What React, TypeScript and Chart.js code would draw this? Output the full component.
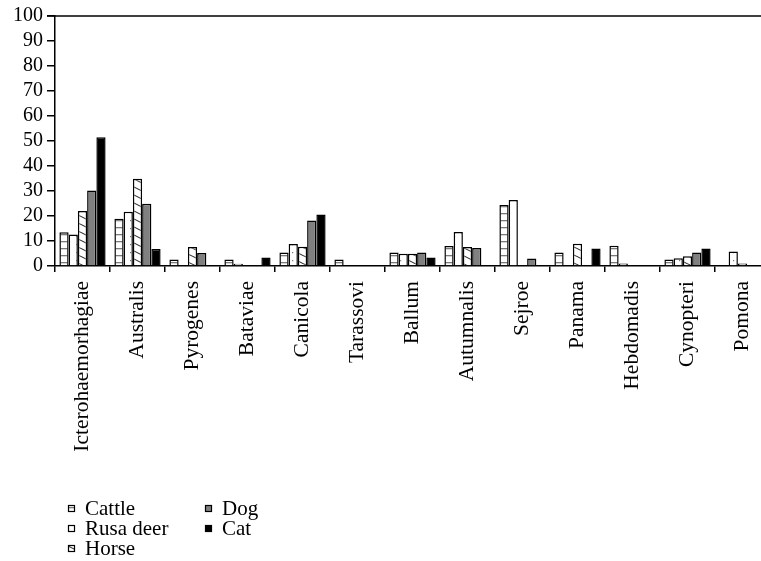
import React, { useEffect, useRef } from "react";
import { Chart, registerables } from "chart.js";

Chart.register(...registerables);

const categories = [
  "Icterohaemorhagiae",
  "Australis",
  "Pyrogenes",
  "Bataviae",
  "Canicola",
  "Tarassovi",
  "Ballum",
  "Autumnalis",
  "Sejroe",
  "Panama",
  "Hebdomadis",
  "Cynopteri",
  "Pomona",
];

const seriesNames = ["Cattle", "Rusa deer", "Horse", "Dog", "Cat"];

const cattle = [13.5, 18.9, 2.6, 2.6, 5.4, 2.6, 5.4, 8.0, 24.4, 5.4, 8.1, 2.6, 0];
const rusaDeer = [12.6, 21.7, 0, 0.9, 8.8, 0, 4.9, 13.6, 26.4, 0, 1.0, 3.1, 5.8];
const horse = [22.0, 34.9, 7.6, 0, 7.7, 0, 4.9, 7.6, 0, 8.9, 0, 3.9, 1.0];
const dog = [30.2, 24.9, 5.2, 0, 18.2, 0, 5.4, 7.2, 3.0, 0, 0, 5.4, 0];
const cat = [51.5, 6.8, 0, 3.4, 20.6, 0, 3.4, 0, 0, 7.0, 0, 7.0, 0];

const yMin = 0;
const yMax = 100;
const yStep = 10;

const FONT = "'Liberation Serif', 'Times New Roman', serif";

function makePattern(kind: string): CanvasPattern | string {
  const c = document.createElement("canvas");
  if (kind === "lines") {
    c.width = 8;
    c.height = 7;
    const ctx = c.getContext("2d")!;
    ctx.fillStyle = "#ffffff";
    ctx.fillRect(0, 0, 8, 7);
    ctx.fillStyle = "#7a7a7a";
    ctx.fillRect(0, 3, 8, 1.3);
    return ctx.createPattern(c, "repeat")!;
  }
  if (kind === "dots") {
    c.width = 9;
    c.height = 8;
    const ctx = c.getContext("2d")!;
    ctx.fillStyle = "#ffffff";
    ctx.fillRect(0, 0, 9, 8);
    ctx.fillStyle = "#777777";
    ctx.fillRect(4, 4, 1.2, 1.2);
    return ctx.createPattern(c, "repeat")!;
  }
  if (kind === "diag") {
    c.width = 16;
    c.height = 8;
    const ctx = c.getContext("2d")!;
    ctx.fillStyle = "#ffffff";
    ctx.fillRect(0, 0, 16, 8);
    ctx.strokeStyle = "#333333";
    ctx.lineWidth = 1.1;
    for (let k = -1; k <= 1; k++) {
      ctx.beginPath();
      ctx.moveTo(-16, -8 + 8 * k);
      ctx.lineTo(32, 16 + 8 * k);
      ctx.stroke();
    }
    return ctx.createPattern(c, "repeat")!;
  }
  return kind;
}

const legendPlugin = {
  id: "columnLegend",
  afterDraw(chart: any) {
    const ctx: CanvasRenderingContext2D = chart.ctx;
    const positions = [
      [68, 508],
      [68, 528],
      [68, 548],
      [205, 508],
      [205, 528],
    ];
    ctx.save();
    ctx.font = `21px ${FONT}`;
    ctx.textBaseline = "middle";
    ctx.textAlign = "left";
    chart.data.datasets.forEach((ds: any, i: number) => {
      const [x, y] = positions[i];
      ctx.fillStyle = ds.backgroundColor;
      ctx.fillRect(x, y - 3, 7, 7);
      ctx.strokeStyle = "#000";
      ctx.lineWidth = 1.2;
      ctx.strokeRect(x + 0.5, y - 2.5, 6, 6);
      ctx.fillStyle = "#000";
      ctx.fillText(ds.label, x + 17, y + 1);
    });
    ctx.restore();
  },
};

const topLinePlugin = {
  id: "topLine",
  afterDraw(chart: any) {
    const { ctx, chartArea } = chart;
    ctx.save();
    ctx.strokeStyle = "#000";
    ctx.lineWidth = 1.5;
    ctx.beginPath();
    ctx.moveTo(chartArea.left - 8, chartArea.top);
    ctx.lineTo(chart.width, chartArea.top);
    ctx.stroke();
    ctx.restore();
  },
};

export default function App() {
  const ref = useRef<HTMLCanvasElement | null>(null);

  useEffect(() => {
    if (!ref.current) return;
    const fills = [
      makePattern("lines"),
      makePattern("dots"),
      makePattern("diag"),
      "#808080",
      "#000000",
    ];
    const values = [cattle, rusaDeer, horse, dog, cat];
    const chart = new Chart(ref.current, {
      type: "bar",
      data: {
        labels: categories,
        datasets: seriesNames.map((name, i) => ({
          label: name,
          data: values[i],
          backgroundColor: fills[i] as any,
          borderColor: "#000000",
          borderWidth: 1.5,
          borderSkipped: "bottom",
          barPercentage: 1,
          categoryPercentage: 0.84,
        })),
      },
      options: {
        animation: false,
        responsive: false,
        devicePixelRatio: 1,
        layout: { padding: { left: 0, top: 12, right: 30, bottom: 0 } },
        plugins: {
          legend: { display: false },
          tooltip: { enabled: false },
        },
        scales: {
          x: {
            offset: true,
            grid: {
              display: true,
              offset: true,
              drawOnChartArea: false,
              drawTicks: true,
              tickLength: 6,
              color: "#000",
              lineWidth: 1.5,
            },
            border: { display: true, color: "#000", width: 1.5 },
            ticks: {
              autoSkip: false,
              minRotation: 90,
              maxRotation: 90,
              padding: 9,
              color: "#000",
              font: { family: FONT, size: 21.5 },
            },
            afterFit: (scale: any) => {
              scale.height = 295;
            },
          },
          y: {
            min: yMin,
            max: yMax,
            grid: {
              display: true,
              drawOnChartArea: false,
              drawTicks: true,
              tickLength: 8,
              color: "#000",
              lineWidth: 1.5,
            },
            border: { display: true, color: "#000", width: 1.5 },
            ticks: {
              stepSize: yStep,
              autoSkip: false,
              padding: 4,
              color: "#000",
              font: { family: FONT, size: 20 },
            },
            afterFit: (scale: any) => {
              scale.width = 55;
            },
          },
        },
      },
      plugins: [legendPlugin, topLinePlugin],
    });
    return () => chart.destroy();
  }, []);

  return (
    <div
      style={{
        position: "fixed",
        left: 0,
        top: 0,
        width: 761,
        height: 561,
        overflow: "hidden",
        background: "#fff",
      }}
    >
      <canvas ref={ref} width={800} height={561} style={{ display: "block" }} />
    </div>
  );
}
